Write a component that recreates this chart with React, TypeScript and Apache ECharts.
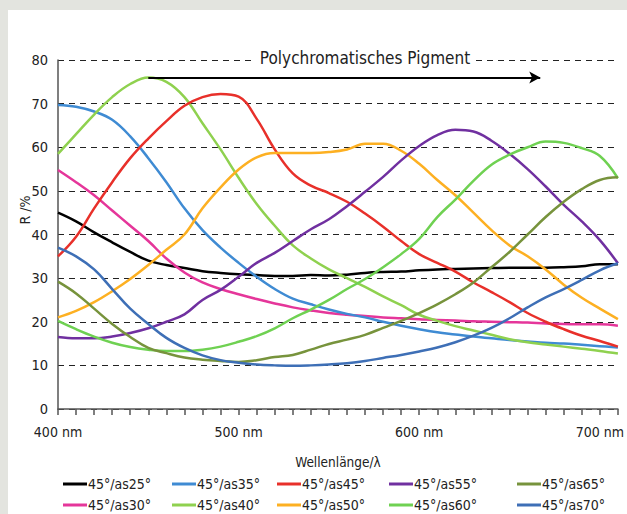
import React, { useEffect, useRef } from "react";
import * as echarts from "echarts";

const wavelengths = [400, 410, 420, 430, 440, 450, 460, 470, 480, 490, 500, 510, 520, 530, 540, 550, 560, 570, 580, 590, 600, 610, 620, 630, 640, 650, 660, 670, 680, 690, 700, 710];

const as25 = [45, 43, 40.5, 38.2, 36, 34, 33, 32.3, 31.6, 31.2, 30.9, 30.7, 30.5, 30.5, 30.7, 30.6, 30.8, 31.2, 31.4, 31.5, 31.8, 32, 32.1, 32.2, 32.3, 32.4, 32.4, 32.4, 32.5, 32.7, 33.2, 33.2];
const as30 = [54.8, 52, 49, 45.5, 42, 38.5, 34.5, 31.3, 29, 27.5, 26.3, 25.2, 24.2, 23.3, 22.6, 22, 21.6, 21.3, 21, 20.8, 20.6, 20.4, 20.3, 20.1, 20, 19.9, 19.8, 19.6, 19.5, 19.4, 19.4, 19.1];
const as35 = [69.7, 69.3, 68.2, 66.3, 62.5, 57.5, 52, 46, 41, 37, 33.5, 30.3, 27.5, 25.3, 24, 22.8, 21.8, 21, 20, 19.1, 18.3, 17.6, 17.1, 16.6, 16.2, 15.8, 15.5, 15.2, 15, 14.7, 14.4, 14.1];
const as40 = [58.5, 63, 67.5, 71.5, 74.5, 76, 75, 71.5, 65.5, 59.5, 53, 47, 42, 37.5, 34.5, 32, 30, 28, 25.8, 23.8, 21.6, 20.2, 19, 18, 17, 16, 15.3, 14.8, 14.3, 13.8, 13.3, 12.7];
const as45 = [35, 39.5, 46, 52, 57.5, 62, 66, 69.5, 71.5, 72.2, 71.6, 66.5, 59.5, 54, 51.2, 49.5, 47.5, 44.8, 41.8, 38.5, 35.5, 33.5, 31.5, 29, 26.8, 24.5, 22, 20, 18.3, 16.8, 15.6, 14.3];
const as50 = [21, 22.5, 24.5, 27, 29.8, 33, 36.5, 40, 46, 50.8, 54.9, 57.7, 58.7, 58.7, 58.7, 58.9, 59.5, 60.8, 60.8, 59.2, 56.2, 52.5, 49, 45, 41, 37.5, 35, 32, 28.5, 25.5, 23, 20.6];
const as55 = [16.5, 16.2, 16.2, 16.6, 17.4, 18.5, 20, 21.7, 25, 27.3, 30.3, 33.5, 35.8, 38.5, 41.2, 43.5, 46.5, 49.8, 53.2, 57, 60.3, 62.8, 64, 63.6, 61.5, 58.5, 55, 51, 46.8, 43, 38.7, 33.4];
const as60 = [20.2, 18.3, 16.6, 15.2, 14.2, 13.6, 13.3, 13.3, 13.6, 14.3, 15.4, 16.7, 18.5, 20.8, 22.8, 25, 27.5, 29.8, 32.5, 35.5, 39, 44, 48, 52.3, 56, 58.3, 60, 61.3, 61, 59.8, 58, 52.9];
const as65 = [29.2, 26.5, 23, 19.5, 16.5, 14, 12.8, 11.8, 11.3, 11, 10.8, 11.2, 11.9, 12.4, 13.6, 14.9, 15.9, 17, 18.6, 20.2, 22, 24, 26.3, 29, 32.5, 36, 40, 44, 47.5, 50.4, 52.5, 53.1];
const as70 = [37, 35, 32, 27.5, 23, 19.5, 16.3, 14, 12.3, 11.2, 10.6, 10.2, 10, 9.9, 10, 10.2, 10.5, 11, 11.7, 12.4, 13.2, 14.1, 15.3, 16.8, 18.6, 20.8, 23.3, 25.6, 27.5, 29.6, 31.8, 33.4];

const seriesNames = ["45°/as25°", "45°/as30°", "45°/as35°", "45°/as40°", "45°/as45°", "45°/as50°", "45°/as55°", "45°/as60°", "45°/as65°", "45°/as70°"];
const seriesValues = [as25, as30, as35, as40, as45, as50, as55, as60, as65, as70];
const seriesColors = ["#000000", "#e5369a", "#3f8bd3", "#8fd14f", "#e8302a", "#fdb022", "#7030a0", "#6fd152", "#77933c", "#3e6fb6"];

const arrowStart = [450, 76];
const arrowEnd = [667, 76];

const titleText = "Polychromatisches Pigment";
const xName = "Wellenlänge/λ";
const yName = "R /%";

const FONT = "'Liberation Sans Narrow', 'DejaVu Sans Condensed', 'Arial Narrow', sans-serif";

export default function App() {
  const ref = useRef<HTMLDivElement>(null);
  useEffect(() => {
    if (!ref.current) return;
    const chart = echarts.init(ref.current, null, { renderer: "svg" });
    const series: any[] = seriesNames.map((name, i) => ({
      name,
      type: "line",
      data: wavelengths.map((w, j) => [w, seriesValues[i][j]]),
      smooth: 0.4,
      showSymbol: false,
      symbol: "none",
      lineStyle: { color: seriesColors[i], width: 2.5 },
      itemStyle: { color: seriesColors[i] },
      z: 3,
    }));
    series.push({
      name: "arrow",
      type: "line",
      data: [],
      markLine: {
        silent: true,
        symbol: ["none", "arrow"],
        symbolSize: [9, 11],
        label: { show: false },
        lineStyle: { color: "#000", width: 2.2, type: "solid" },
        data: [[{ coord: arrowStart }, { coord: arrowEnd }]],
      },
    });
    const colLefts = [55, 164, 269, 381, 509];
    const rowTops = [466, 487];
    const legends = seriesNames.map((name, i) => ({
      orient: "horizontal",
      left: colLefts[Math.floor(i / 2)],
      top: rowTops[i % 2],
      data: [name],
      icon: "rect",
      itemWidth: 24,
      itemHeight: 3,
      padding: 0,
      selectedMode: false,
      textStyle: { fontFamily: FONT, fontSize: 14, color: "#222", lineHeight: 16, padding: [0, 0, 0, -4] },
    }));
    chart.setOption({
      animation: false,
      backgroundColor: "#ffffff",
      grid: { left: 50, top: 50, right: 3, bottom: 105, containLabel: false },
      xAxis: {
        type: "value",
        min: 400,
        max: 710,
        interval: 10,
        name: xName,
        nameLocation: "middle",
        nameGap: 46,
        nameTextStyle: { fontFamily: FONT, fontSize: 13.5, color: "#222" },
        axisLine: { show: true, lineStyle: { color: "#555", width: 1.5 } },
        axisTick: { show: true, length: 6, lineStyle: { color: "#555", width: 1.5 } },
        axisLabel: {
          margin: 16,
          fontFamily: FONT,
          fontSize: 14,
          color: "#222",
          formatter: (v: number) => (v % 100 === 0 ? v + " nm" : ""),
        },
        splitLine: { show: false },
      },
      yAxis: {
        type: "value",
        min: 0,
        max: 80,
        interval: 10,
        axisLine: { show: true, lineStyle: { color: "#555", width: 1.5 } },
        axisTick: { show: false },
        axisLabel: { margin: 10, fontFamily: FONT, fontSize: 14.5, color: "#222" },
        splitLine: { show: true, lineStyle: { color: "#222", width: 1.2, type: [6, 5] } },
      },
      legend: legends,
      graphic: [
        {
          type: "text",
          x: 357,
          y: 48,
          z: 100,
          style: {
            text: titleText,
            fontFamily: FONT,
            fontSize: 17,
            fill: "#222",
            align: "center",
            verticalAlign: "middle",
            backgroundColor: "#ffffff",
            padding: [2, 5],
          },
        },
        {
          type: "text",
          x: 17,
          y: 200,
          rotation: Math.PI / 2,
          z: 100,
          style: {
            text: yName,
            fontFamily: FONT,
            fontSize: 14,
            fill: "#222",
            align: "center",
            verticalAlign: "middle",
          },
        },
      ],
      series,
    });
    return () => chart.dispose();
  }, []);
  return (
    <div style={{ position: "fixed", left: 0, top: 0, width: 627, height: 514, background: "#e3e4df" }}>
      <div ref={ref} style={{ position: "absolute", left: 8, top: 10, width: 619, height: 504, background: "#fff" }} />
    </div>
  );
}
